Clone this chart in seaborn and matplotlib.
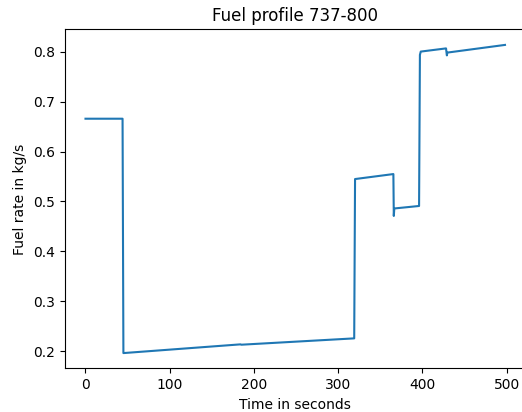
import matplotlib
matplotlib.use("Agg")
import matplotlib.pyplot as plt
import seaborn as sns
import pandas as pd

time_s = [0, 44, 45, 184, 185, 319, 320, 365.5, 366, 366.6, 396, 397, 398, 428, 429, 429.6, 498]
fuel_rate = [0.666, 0.666, 0.196, 0.2135, 0.2128, 0.2255, 0.545, 0.555, 0.471, 0.486, 0.491, 0.794, 0.8006, 0.807, 0.793, 0.7986, 0.814]

df = pd.DataFrame({"t": time_s, "f": fuel_rate})

fig = plt.figure(figsize=(5.22, 4.12), dpi=100)
ax = fig.add_axes([0.1236, 0.1056, 0.884, 0.8228])
sns.lineplot(data=df, x="t", y="f", sort=False, estimator=None, ax=ax,
             color="#1f77b4", linewidth=1.5)
ax.set_title("Fuel profile 737-800")
ax.set_xlabel("Time in seconds")
ax.set_ylabel("Fuel rate in kg/s")
ax.set_xticks([0, 100, 200, 300, 400, 500])
ax.set_yticks([0.2, 0.3, 0.4, 0.5, 0.6, 0.7, 0.8])
fig.savefig("out.png", dpi=100)
